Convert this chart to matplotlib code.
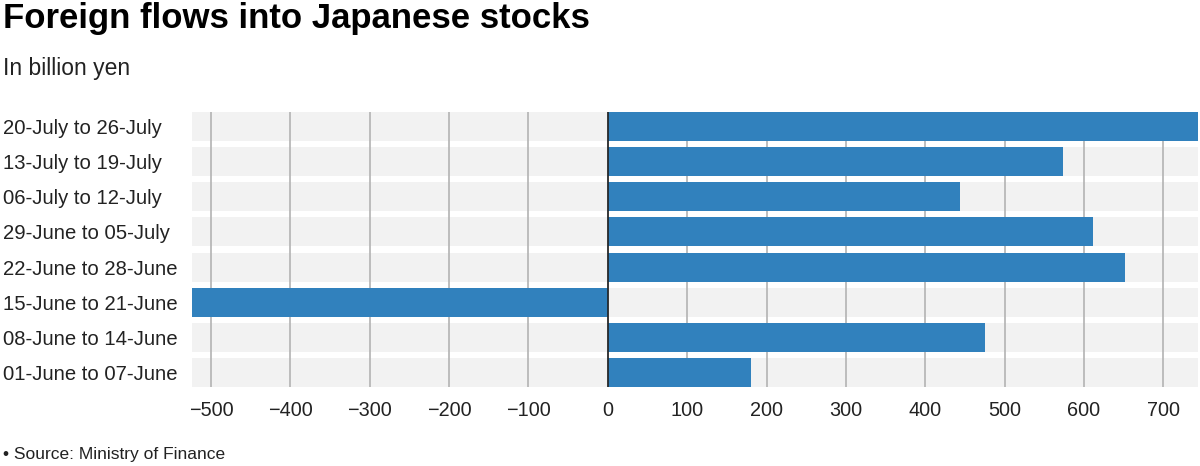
import matplotlib
matplotlib.use("Agg")
import matplotlib.pyplot as plt

periods = ["20-July to 26-July", "13-July to 19-July", "06-July to 12-July",
           "29-June to 05-July", "22-June to 28-June", "15-June to 21-June",
           "08-June to 14-June", "01-June to 07-June"]
flows = [744, 573, 444, 611, 652, -524, 475, 180]
ticks = [-500, -400, -300, -200, -100, 0, 100, 200, 300, 400, 500, 600, 700]
xmin, xmax = -524, 744

plt.rcParams['font.family'] = ['Liberation Sans', 'DejaVu Sans']

fig = plt.figure(figsize=(12, 4.66), dpi=100)
ax = fig.add_axes([0.16, 0.1695, 0.8385, 0.5902])

h = 0.827
ypos = list(range(len(periods)))
ax.barh(ypos, [xmax - xmin] * len(periods), left=xmin, height=h,
        color="#f2f2f2", zorder=0)
for t in ticks:
    ax.axvline(t, color="#b3b3b3", lw=1.2, zorder=1)
ax.barh(ypos, flows, height=h, color="#3181bd", zorder=2)
ax.axvline(0, color="#222222", lw=1.2, zorder=3)

ax.set_xlim(xmin, xmax)
ax.set_ylim(len(periods) - 1 + h / 2, -h / 2)
ax.set_xticks(ticks)
ax.set_xticklabels([str(t).replace("-", "\u2212") for t in ticks])
ax.set_yticks(ypos)
ax.set_yticklabels(periods, ha="left")
ax.tick_params(axis="y", length=0, pad=136, labelsize=14.6, labelcolor="#222222")
ax.tick_params(axis="x", length=0, pad=10, labelsize=14.3, labelcolor="#222222")
for s in ax.spines.values():
    s.set_visible(False)

fig.text(0.0025, 0.939, "Foreign flows into Japanese stocks", fontsize=25,
         fontweight="bold", color="#000000", va="baseline")
fig.text(0.0025, 0.839, "In billion yen", fontsize=16.5, color="#222222",
         va="baseline")
fig.text(0.0025, 0.0157, "\u2022 Source: Ministry of Finance", fontsize=12.5,
         color="#222222", va="baseline")

fig.savefig("out.png", dpi=100)
